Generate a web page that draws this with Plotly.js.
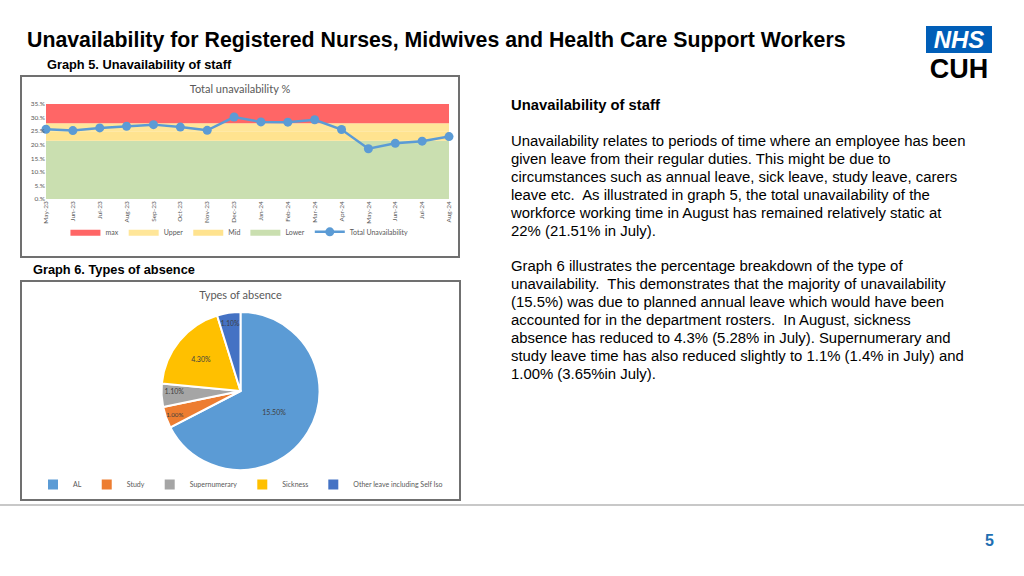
<!DOCTYPE html>
<html><head><meta charset="utf-8">
<script src="https://cdn.plot.ly/plotly-3.0.1.min.js"></script>
<style>
body{margin:0;background:#fff;}
#page{position:relative;width:1024px;height:576px;overflow:hidden;font-family:"Liberation Sans",Arial,sans-serif;color:#000;background:#fff;}
.t{position:absolute;white-space:nowrap;}
.box{position:absolute;box-sizing:border-box;border:2px solid #707070;background:#fff;}
.para{font-size:14.9px;line-height:18px;}
</style></head><body>
<div id="page">
  <div class="t" style="left:27px;top:28px;font-size:21.3px;line-height:24px;font-weight:bold;">Unavailability for Registered Nurses, Midwives and Health Care Support Workers</div>
  <div class="t" style="left:47px;top:58px;font-size:12.8px;line-height:14px;font-weight:bold;">Graph 5. Unavailability of staff</div>
  <div class="t" style="left:33px;top:263px;font-size:12.8px;line-height:14px;font-weight:bold;">Graph 6. Types of absence</div>

  <div class="t" style="left:511px;top:96px;font-size:14.8px;line-height:18px;font-weight:bold;">Unavailability of staff</div>
  <div class="t para" style="left:511px;top:132px;">Unavailability relates to periods of time where an employee has been<br>given leave from their regular duties. This might be due to<br>circumstances such as annual leave, sick leave, study leave, carers<br>leave etc.&nbsp; As illustrated in graph 5, the total unavailability of the<br>workforce working time in August has remained relatively static at<br>22% (21.51% in July).</div>
  <div class="t para" style="left:511px;top:257px;">Graph 6 illustrates the percentage breakdown of the type of<br>unavailability.&nbsp; This demonstrates that the majority of unavailability<br>(15.5%) was due to planned annual leave which would have been<br>accounted for in the department rosters.&nbsp; In August, sickness<br>absence has reduced to 4.3% (5.28% in July). Supernumerary and<br>study leave time has also reduced slightly to 1.1% (1.4% in July) and<br>1.00% (3.65%in July).</div>

  <div style="position:absolute;left:926px;top:26px;width:66px;height:27px;background:#005EB8;"></div>
  <div class="t" style="left:926px;top:26px;width:66px;height:27px;line-height:27px;text-align:center;color:#fff;font-weight:bold;font-style:italic;font-size:24px;">NHS</div>
  <div class="t" style="left:926px;top:57px;width:66px;height:24px;line-height:24px;text-align:center;color:#000;font-size:27px;font-weight:bold;">CUH</div>

  <div style="position:absolute;left:0;top:504px;width:1024px;height:2px;background:#c8c8c8;"></div>
  <div class="t" style="left:985px;top:532px;font-size:16px;line-height:18px;font-weight:bold;color:#1F6FB2;">5</div>

  <div class="box" style="left:20px;top:75px;width:440px;height:183px;"><div id="c1" style="width:436px;height:179px;"></div></div>
  <div class="box" style="left:20px;top:280px;width:441px;height:221px;"><div id="c2" style="width:437px;height:217px;"></div></div>
</div>
<script>
// ---- Graph 5 data ----
const months = ['May-23','Jun-23','Jul-23','Aug-23','Sep-23','Oct-23','Nov-23','Dec-23','Jan-24','Feb-24','Mar-24','Apr-24','May-24','Jun-24','Jul-24','Aug-24'];
const totalUnavailability = [25.7,25.2,26.2,26.8,27.4,26.5,25.3,30.2,28.4,28.3,29.2,25.6,18.5,20.5,21.3,23.0];
const lowerBand = [21.5,21.5,21.5,21.5,21.5,21.5,21.5,21.5,21.5,21.5,21.5,21.5,21.5,21.5,21.5,21.5];
const midBand   = [3.5,3.5,3.5,3.5,3.5,3.5,3.5,3.5,3.5,3.5,3.5,3.5,3.5,3.5,3.5,3.5];
const upperBand = [2.9,2.9,2.9,2.9,2.9,2.9,2.9,2.9,2.9,2.9,2.9,2.9,2.9,2.9,2.9,2.9];
const maxBand   = [7.1,7.1,7.1,7.1,7.1,7.1,7.1,7.1,7.1,7.1,7.1,7.1,7.1,7.1,7.1,7.1];
const yTickVals = [0,5,10,15,20,25,30,35];
const yTickText = ['0.%','5.%','10.%','15.%','20.%','25.%','30.%','35.%'];

// ---- Graph 6 data ----
const absenceTypes = ['AL','Study','Supernumerary','Sickness','Other leave including Self Iso'];
const absenceValues = [15.5,1.0,1.1,4.3,1.1];

const chartFont = {family:'Lato, "Open Sans", sans-serif', color:'#595959', size:7};

function band(name, y, color, rank){
  return {x:months, y:y, name:name, type:'scatter', mode:'lines', stackgroup:'bands',
    line:{width:0, color:color}, fillcolor:color, legendrank:rank, hoverinfo:'skip'};
}
const traces1 = [
  band('Lower', lowerBand, '#CADFB0', 4),
  band('Mid', midBand, '#FFE38F', 3),
  band('Upper', upperBand, '#FFE699', 2),
  band('max', maxBand, '#FF6666', 1),
  {x:months, y:totalUnavailability, name:'Total Unavailability', type:'scatter', mode:'lines+markers',
   line:{color:'#5B9BD5', width:2.5}, marker:{color:'#5B9BD5', size:9}, cliponaxis:false, legendrank:5}
];
const layout1 = {
  width:436, height:179, margin:{l:24, r:9, t:27, b:48},
  paper_bgcolor:'#fff', plot_bgcolor:'#fff', font:chartFont, showlegend:true,
  title:{text:'Total unavailability %', font:{family:'Lato, "Open Sans", sans-serif', size:11, color:'#595959'}, x:0.5, xanchor:'center', y:1-12/179, yref:'container', yanchor:'middle'},
  xaxis:{type:'category', range:[0,15], tickangle:-90, showgrid:false, showline:false, zeroline:false, ticks:'', tickfont:{size:6.5, color:'#595959'}, fixedrange:true},
  yaxis:{range:[0,35], tickvals:yTickVals, ticktext:yTickText, showgrid:false, showline:false, zeroline:false, ticks:'', tickfont:{size:6.5, color:'#595959'}, fixedrange:true},
  legend:{orientation:'h', traceorder:'normal', x:0.48, xanchor:'center', y:-0.346, yanchor:'middle', font:{size:7, color:'#595959'}, itemwidth:30, tracegroupgap:0, bgcolor:'rgba(0,0,0,0)'}
};
Plotly.newPlot('c1', traces1, layout1, {displayModeBar:false, staticPlot:true});

const traces2 = [{
  type:'pie', labels:absenceTypes, values:absenceValues, sort:false, direction:'clockwise', rotation:0,
  marker:{colors:['#5B9BD5','#ED7D31','#A5A5A5','#FFC000','#4472C4'], line:{color:'#fff', width:2}},
  texttemplate:'%{value:.2f}%', textposition:'inside', insidetextorientation:'horizontal',
  textfont:{size:7, color:'#404040', family:'Lato, "Open Sans", sans-serif'}, hoverinfo:'skip'
}];
const layout2 = {
  width:437, height:217, margin:{l:0, r:0, t:30, b:27},
  paper_bgcolor:'#fff', font:chartFont, showlegend:true,
  title:{text:'Types of absence', font:{family:'Lato, "Open Sans", sans-serif', size:11, color:'#595959'}, x:0.5, xanchor:'center', y:1-13/217, yref:'container', yanchor:'middle'},
  legend:{orientation:'h', x:0.5, xanchor:'center', y:-0.094, yanchor:'middle', font:{size:7, color:'#595959'}, itemwidth:30, bgcolor:'rgba(0,0,0,0)'}
};
Plotly.newPlot('c2', traces2, layout2, {displayModeBar:false, staticPlot:true});
</script>
</body></html>
